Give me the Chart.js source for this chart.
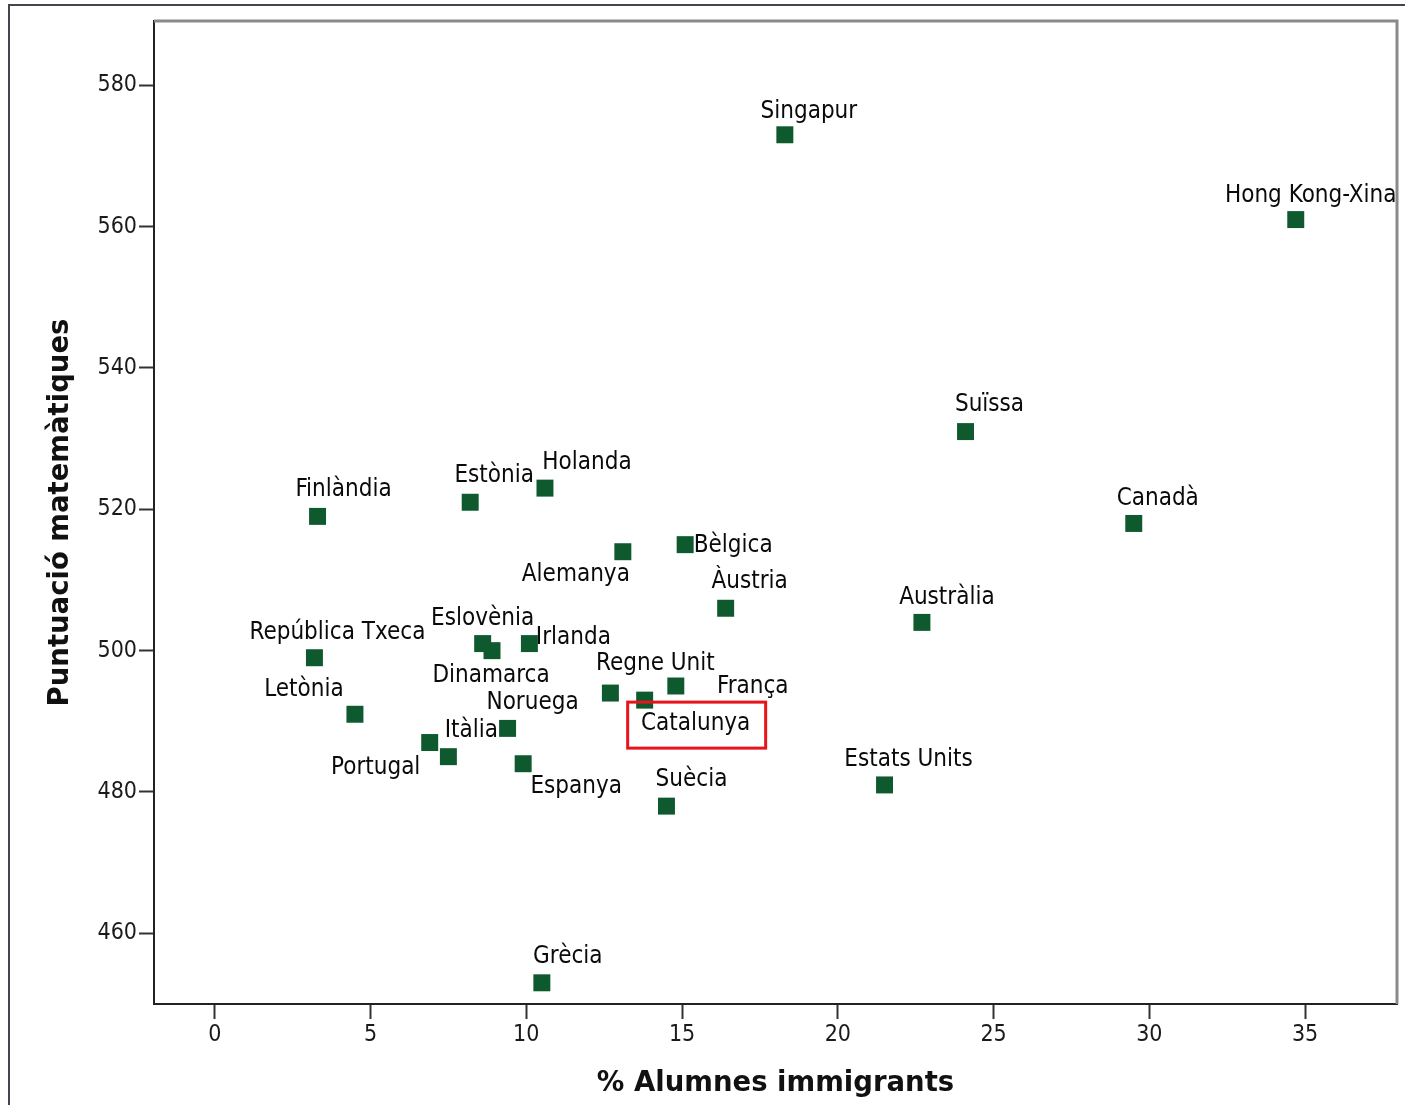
<!DOCTYPE html>
<html lang="ca">
<head>
  <meta charset="UTF-8">
  <title>Puntuació matemàtiques vs % alumnes immigrants</title>
  <script src="https://cdn.jsdelivr.net/npm/chart.js"></script>
  <style>
    * { box-sizing: border-box; margin: 0; padding: 0; }
    body { background: #fff; width: 1405px; height: 1105px; overflow: hidden; }
    #wrap { position: relative; width: 1405px; height: 1105px; }
  </style>
</head>
<body>
  <div id="wrap">
    <canvas id="scatter" width="1405" height="1105"></canvas>
  </div>

  <script>
    // Data
    const countries = [
      'Singapur', 'Hong Kong-Xina', 'Suïssa', 'Canadà', 'Finlàndia', 'Estònia',
      'Holanda', 'Alemanya', 'Bèlgica', 'Àustria', 'Austràlia', 'República Txeca',
      'Eslovènia', 'Dinamarca', 'Irlanda', 'Letònia', 'Regne Unit', 'Catalunya',
      'França', 'Noruega', 'Itàlia', 'Portugal', 'Espanya', 'Suècia',
      'Estats Units', 'Grècia'
    ];
    const immigrantPct = [
      18.3, 34.7, 24.1, 29.5, 3.3, 8.2,
      10.6, 13.1, 15.1, 16.4, 22.7, 3.2,
      8.6, 8.9, 10.1, 4.5, 12.7, 13.8,
      14.8, 9.4, 7.5, 6.9, 9.9, 14.5,
      21.5, 10.5
    ];
    const mathScore = [
      573, 561, 531, 518, 519, 521,
      523, 514, 515, 506, 504, 499,
      501, 500, 501, 491, 494, 493,
      495, 489, 485, 487, 484, 478,
      481, 453
    ];
    const xTicks = [0, 5, 10, 15, 20, 25, 30, 35];
    const yTicks = [460, 480, 500, 520, 540, 560, 580];
    const highlighted = 'Catalunya';

    // where each label sits relative to its marker (label centre, px)
    const labelOffset = {
      'Singapur': [24, -23], 'Hong Kong-Xina': [15, -24], 'Suïssa': [24, -27],
      'Canadà': [24, -25], 'Finlàndia': [26, -27], 'Estònia': [24, -26],
      'Holanda': [42, -25], 'Alemanya': [-47, 23], 'Bèlgica': [48, 1],
      'Àustria': [24, -26], 'Austràlia': [25, -25], 'República Txeca': [23, -25],
      'Eslovènia': [0, -25], 'Dinamarca': [-1, 25], 'Irlanda': [44, -6],
      'Letònia': [-51, -24], 'Regne Unit': [45, -29], 'Catalunya': [51, 24],
      'França': [77, 1], 'Noruega': [25, -26], 'Itàlia': [23, -26],
      'Portugal': [-54, 25], 'Espanya': [53, 23], 'Suècia': [25, -26],
      'Estats Units': [24, -25], 'Grècia': [26, -26]
    };

    const points = countries.map((c, i) => ({ x: immigrantPct[i], y: mathScore[i] }));
    const tickFont = { family: 'DejaVu Sans Condensed', size: 23 };
    const titleFont = { family: 'DejaVu Sans', size: 27.5, weight: 'bold' };

    // labels next to markers, plus the red box round the highlighted one
    const pointLabels = {
      id: 'pointLabels',
      afterDatasetsDraw(chart) {
        const ctx = chart.ctx;
        const meta = chart.getDatasetMeta(0);
        ctx.save();
        ctx.font = '24px "DejaVu Sans Condensed"';
        ctx.fillStyle = '#0a0a0a';
        ctx.textAlign = 'center';
        ctx.textBaseline = 'middle';
        meta.data.forEach((pt, i) => {
          const name = countries[i];
          const off = labelOffset[name] || [0, -25];
          const lx = pt.x + off[0], ly = pt.y + off[1];
          ctx.fillText(name, lx, ly);
          if (name === highlighted) {
            ctx.strokeStyle = '#e8141c';
            ctx.lineWidth = 3;
            ctx.strokeRect(lx - 68, ly - 22, 138, 46);
          }
        });
        ctx.restore();
      }
    };

    // top/right edge of the plot box and the outer picture frame
    const frames = {
      id: 'frames',
      beforeDraw(chart) {
        const ctx = chart.ctx;
        ctx.save();
        ctx.fillStyle = '#fff';
        ctx.fillRect(0, 0, chart.width, chart.height);
        ctx.restore();
      },
      afterDraw(chart) {
        const { left, top, right, bottom } = chart.chartArea;
        const ctx = chart.ctx;
        ctx.save();
        ctx.strokeStyle = '#8a8a8a';
        ctx.lineWidth = 3;
        ctx.beginPath();
        ctx.moveTo(left, top);
        ctx.lineTo(right, top);
        ctx.lineTo(right, bottom);
        ctx.stroke();
        ctx.strokeStyle = '#44444e';
        ctx.lineWidth = 2;
        ctx.beginPath();
        ctx.moveTo(9, chart.height);
        ctx.lineTo(9, 5);
        ctx.lineTo(chart.width, 5);
        ctx.stroke();
        ctx.restore();
      }
    };

    new Chart(document.getElementById('scatter'), {
      type: 'scatter',
      data: {
        datasets: [{
          label: 'Països',
          data: points,
          pointStyle: 'rect',
          pointRadius: 12,
          pointBorderWidth: 0,
          backgroundColor: '#0e5a2e',
          borderColor: '#0e5a2e'
        }]
      },
      plugins: [frames, pointLabels],
      options: {
        responsive: false,
        animation: false,
        events: [],
        layout: { autoPadding: false, padding: { top: 21, right: 8, left: 0, bottom: 0 } },
        plugins: { legend: { display: false }, tooltip: { enabled: false } },
        scales: {
          x: {
            type: 'linear',
            min: -1.95,
            max: 37.95,
            afterBuildTicks: s => { s.ticks = xTicks.map(v => ({ value: v })); },
            afterFit: s => { s.height = 101; },
            ticks: { font: tickFont, color: '#1a1a1a', padding: 2, maxRotation: 0 },
            grid: { display: true, drawOnChartArea: false, tickLength: 15, tickWidth: 2, tickColor: '#333' },
            border: { display: true, color: '#222', width: 2 },
            title: { display: true, text: '% Alumnes immigrants', font: titleFont, color: '#111', padding: { top: 0, bottom: 5 } }
          },
          y: {
            type: 'linear',
            min: 450,
            max: 589.1,
            afterBuildTicks: s => { s.ticks = yTicks.map(v => ({ value: v })); },
            afterFit: s => { s.width = 154; },
            ticks: { font: tickFont, color: '#1a1a1a', padding: 2 },
            grid: { display: true, drawOnChartArea: false, tickLength: 15, tickWidth: 2, tickColor: '#333' },
            border: { display: true, color: '#222', width: 2 },
            title: { display: true, text: 'Puntuació matemàtiques', font: titleFont, color: '#111', padding: { top: 44, bottom: 0 } }
          }
        }
      }
    });
  </script>
</body>
</html>
